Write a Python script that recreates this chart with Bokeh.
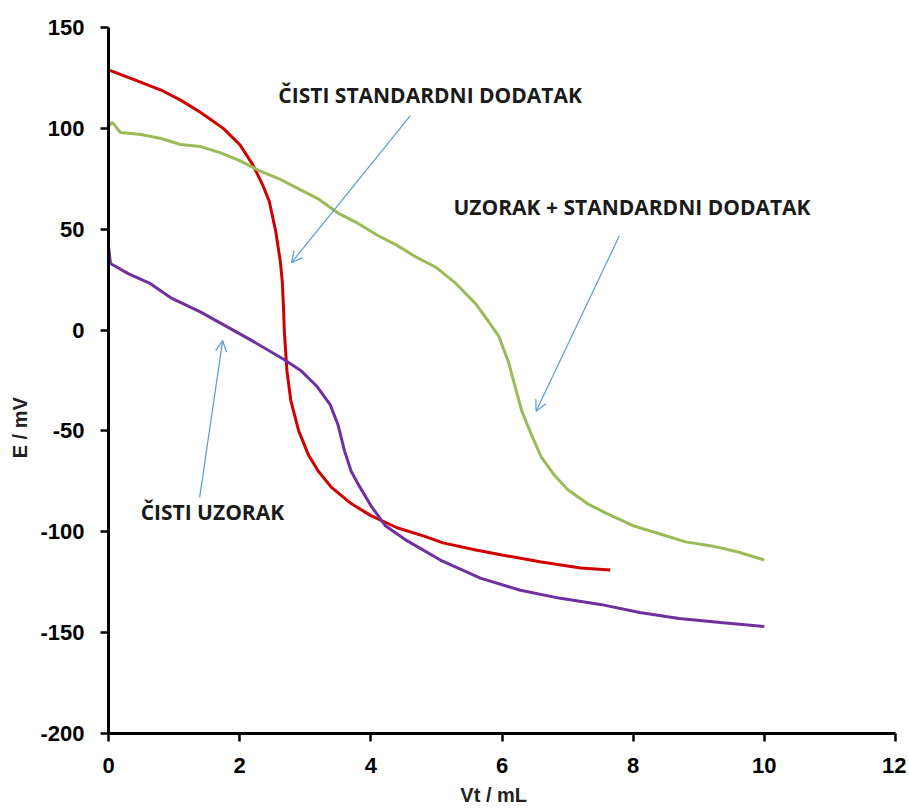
from bokeh.plotting import figure
from bokeh.models import Range1d, FixedTicker, Label, Arrow, OpenHead
from bokeh.embed import file_html
from bokeh.resources import INLINE

# ---- data ----
x_std = [0, 0.4, 0.8, 1.1, 1.4, 1.75, 2.0, 2.2, 2.35, 2.45, 2.55, 2.62, 2.65, 2.67, 2.68,
         2.72, 2.78, 2.9, 3.05, 3.2, 3.4, 3.7, 4.0, 4.4, 4.8, 5.1, 5.6, 6.0, 6.6, 7.2, 7.65]
e_std = [129, 124, 119, 114, 108, 100, 92, 82, 72, 64, 49, 34, 24, 10, 0,
         -20, -35, -50, -62, -70, -78, -86, -92, -98, -102, -105.5, -109, -111.5, -115, -118, -119]

x_mix = [0, 0.06, 0.18, 0.5, 0.8, 1.1, 1.4, 1.7, 2.0, 2.3, 2.6, 2.9, 3.2, 3.5, 3.8, 4.1, 4.4,
         4.7, 5.0, 5.3, 5.6, 5.8, 5.95, 6.1, 6.2, 6.3, 6.45, 6.6, 6.8, 7.0, 7.3, 7.6, 8.0,
         8.4, 8.8, 9.2, 9.6, 10.0]
e_mix = [101, 103, 98, 97, 95, 92, 91, 88, 84, 79, 75, 70, 65, 58, 53, 47, 42,
         36, 31, 23, 13, 4, -3, -16, -28, -40, -52, -63, -72, -79, -86, -91, -97,
         -101, -105, -107, -110, -114]

x_smp = [0, 0.03, 0.3, 0.64, 0.95, 1.4, 1.9, 2.2, 2.67, 2.93, 3.18, 3.38, 3.5, 3.6, 3.7, 3.8,
         4.0, 4.22, 4.53, 5.06, 5.67, 6.28, 6.89, 7.5, 8.1, 8.7, 9.33, 10.0]
e_smp = [42, 33, 28, 23, 16, 9, 0, -5.5, -14.5, -20, -28, -37, -47, -60, -70, -76,
         -87, -97, -104, -114, -123, -129, -133, -136, -140, -143, -145, -147]

x_ticks = [0, 2, 4, 6, 8, 10, 12]
y_ticks = [-200, -150, -100, -50, 0, 50, 100, 150]

label_texts = ["ČISTI STANDARDNI DODATAK", "UZORAK + STANDARDNI DODATAK", "ČISTI UZORAK"]
label_x = [2.59, 5.26, 0.49]
label_y = [116.6, 61.0, -90.3]

arrow_x0 = [4.60, 7.79, 1.39]
arrow_y0 = [106.2, 46.8, -82.9]
arrow_x1 = [2.79, 6.52, 1.74]
arrow_y1 = [33.4, -40.3, -5.2]

NBSP = "\u00a0"

# ---- figure ----
p = figure(width=906, height=808, output_backend="svg", toolbar_location=None,
           x_range=Range1d(0, 12), y_range=Range1d(-200, 150),
           min_border_left=108, min_border_right=11, min_border_top=27, min_border_bottom=75)
p.outline_line_color = None
p.grid.visible = False
p.background_fill_color = "white"
p.border_fill_color = "white"

for ax in (p.xaxis[0], p.yaxis[0]):
    ax.axis_line_width = 3
    ax.axis_line_color = "black"
    ax.major_tick_line_width = 2.5
    ax.major_tick_line_color = "black"
    ax.major_tick_out = 8
    ax.major_tick_in = 0
    ax.minor_tick_line_color = None
    ax.major_label_text_font = "Liberation Sans"
    ax.major_label_text_font_style = "bold"
    ax.major_label_text_font_size = "22px"
    ax.major_label_text_color = "black"
    ax.axis_label_text_font = "Liberation Sans"
    ax.axis_label_text_font_style = "bold"
    ax.axis_label_text_font_size = "20px"
    ax.axis_label_text_color = "#222222"

p.xaxis.ticker = FixedTicker(ticks=x_ticks)
p.yaxis.ticker = FixedTicker(ticks=y_ticks)
p.xaxis.major_label_overrides = {t: str(t) for t in x_ticks}
p.yaxis.major_label_overrides = {t: str(t) for t in y_ticks}
p.xaxis.major_label_standoff = 16
p.yaxis.major_label_standoff = 16

p.xaxis.axis_label = "Vt / mL" + NBSP * 3
p.xaxis.axis_label_standoff = 8
p.yaxis.axis_label = "E / mV" + NBSP * 17
p.yaxis.axis_label_standoff = 6

p.line(x_std, e_std, line_color="#D00000", line_width=3)
p.line(x_mix, e_mix, line_color="#9BBB59", line_width=3)
p.line(x_smp, e_smp, line_color="#7030A0", line_width=3)

for i in range(3):
    p.add_layout(Arrow(x_start=arrow_x0[i], y_start=arrow_y0[i], x_end=arrow_x1[i], y_end=arrow_y1[i],
                       line_color="#5B9BD5", line_width=1.2,
                       end=OpenHead(size=11, line_color="#5B9BD5", line_width=1.2)))
    p.add_layout(Label(x=label_x[i], y=label_y[i], text=label_texts[i],
                       text_font="Open Sans", text_font_style="bold", text_font_size="21px",
                       text_color="#1a1a1a", text_baseline="middle", text_align="left"))

open("out.html", "w").write(file_html(p, INLINE))
